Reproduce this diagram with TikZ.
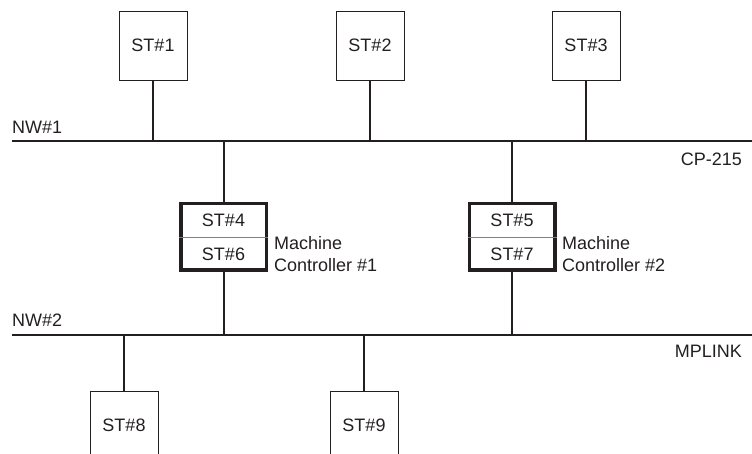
\documentclass[tikz,border=0pt]{standalone}
\usepackage{fontspec}
\setmainfont{Liberation Sans}
\definecolor{ink}{HTML}{231F20}
\definecolor{divgray}{HTML}{808080}
\begin{document}
\begin{tikzpicture}[x=1pt,y=-1pt,
  every node/.style={text=ink,font=\fontsize{18}{21.5}\selectfont},
  stbox/.style={draw=ink,line width=0.9pt,minimum width=68pt,minimum height=69pt,inner sep=0pt},
  mcbox/.style={draw=ink,line width=3.5pt,minimum width=85.5pt,minimum height=66.5pt,inner sep=0pt},
  net/.style={draw=ink,line width=2pt},
  link/.style={draw=ink,line width=2pt},
  lbl/.style={inner sep=0pt,align=left}]
\useasboundingbox (0,0) rectangle (752,454);
\clip (0,0) rectangle (752,454);
% networks
\coordinate (nw1L) at (12,141.5);
\coordinate (nw1R) at (752,141.5);
\coordinate (nw2L) at (12,334.5);
\coordinate (nw2R) at (752,334.5);
\draw[net] (nw1L) -- (nw1R);
\draw[net] (nw2L) -- (nw2R);
\node[lbl,anchor=west] (nw1lab) at (12,127) {NW\#1};
\node[lbl,anchor=west] (nw2lab) at (12,320) {NW\#2};
\node[lbl,anchor=east] (cplab) at (742,159) {CP-215};
\node[lbl,anchor=east] (mplab) at (742,351) {MPLINK};
% top stations
\node[stbox] (st1) at (153,45.5) {ST\#1};
\node[stbox] (st2) at (370,45.5) {ST\#2};
\node[stbox] (st3) at (586,45.5) {ST\#3};
\draw[link] (st1.south) -- (st1.south |- nw1L);
\draw[link] (st2.south) -- (st2.south |- nw1L);
\draw[link] (st3.south) -- (st3.south |- nw1L);
% machine controllers
\node[mcbox] (mc1) at (223.5,237) {};
\node[mcbox] (mc2) at (512,237) {};
\draw[divgray,line width=0.9pt] (mc1.west) -- (mc1.east);
\draw[divgray,line width=0.9pt] (mc2.west) -- (mc2.east);
\node (st4) at (223.5,220) {ST\#4};
\node (st6) at (223.5,254.5) {ST\#6};
\node (st5) at (512,220) {ST\#5};
\node (st7) at (512,254.5) {ST\#7};
\node[lbl,anchor=west] (mc1lab) at (274,254) {Machine\\Controller \#1};
\node[lbl,anchor=west] (mc2lab) at (562,254) {Machine\\Controller \#2};
\draw[link] (mc1.north |- nw1L) -- (mc1.north);
\draw[link] (mc2.north |- nw1L) -- (mc2.north);
\draw[link] (mc1.south) -- (mc1.south |- nw2L);
\draw[link] (mc2.south) -- (mc2.south |- nw2L);
% bottom stations
\node[stbox] (st8) at (124,425.5) {ST\#8};
\node[stbox] (st9) at (364,425.5) {ST\#9};
\draw[link] (st8.north |- nw2L) -- (st8.north);
\draw[link] (st9.north |- nw2L) -- (st9.north);
\end{tikzpicture}
\end{document}
